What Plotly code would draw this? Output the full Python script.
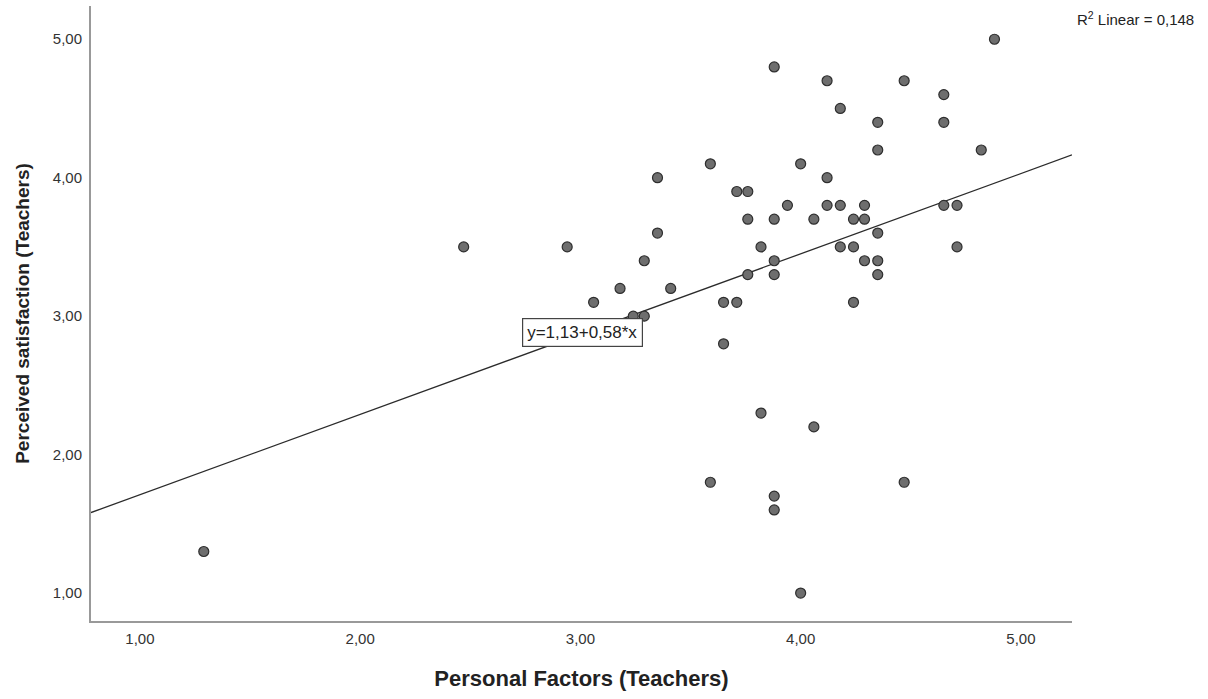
import plotly.graph_objects as go

# Personal Factors (Teachers) and Perceived satisfaction (Teachers), one pair per case
personal = [1.29, 2.47, 2.94, 3.06, 3.18, 3.24, 3.29, 3.29, 3.35, 3.35,
            3.41, 3.59, 3.59, 3.65, 3.65, 3.71, 3.71, 3.76, 3.76, 3.76,
            3.82, 3.82, 3.88, 3.88, 3.88, 3.88, 3.88, 3.88, 3.94, 4.00,
            4.00, 4.06, 4.06, 4.12, 4.12, 4.12, 4.18, 4.18, 4.18, 4.24,
            4.24, 4.24, 4.29, 4.29, 4.29, 4.35, 4.35, 4.35, 4.35, 4.35,
            4.47, 4.47, 4.65, 4.65, 4.65, 4.71, 4.71, 4.82, 4.88]
satisfaction = [1.3, 3.5, 3.5, 3.1, 3.2, 3.0, 3.4, 3.0, 4.0, 3.6,
                3.2, 4.1, 1.8, 3.1, 2.8, 3.9, 3.1, 3.9, 3.7, 3.3,
                3.5, 2.3, 4.8, 3.7, 3.4, 3.3, 1.7, 1.6, 3.8, 4.1,
                1.0, 3.7, 2.2, 4.7, 4.0, 3.8, 4.5, 3.8, 3.5, 3.7,
                3.5, 3.1, 3.8, 3.7, 3.4, 4.4, 4.2, 3.6, 3.4, 3.3,
                4.7, 1.8, 4.6, 4.4, 3.8, 3.8, 3.5, 4.2, 5.0]

# fit line reported by SPSS
intercept = 1.13
slope = 0.58
r2_text = "R<sup>2</sup> Linear = 0,148"
eq_text = "y=1,13+0,58*x"

x_range = [0.778, 5.232]
y_range = [0.798, 5.24]
tick_vals = [1, 2, 3, 4, 5]

fit_x = x_range
fit_y = [intercept + slope * v for v in fit_x]

fig = go.Figure()
fig.add_trace(go.Scatter(
    x=fit_x, y=fit_y, mode='lines',
    line=dict(color='#2b2b2b', width=1.3),
    hoverinfo='skip'
))
fig.add_trace(go.Scatter(
    x=personal, y=satisfaction, mode='markers',
    marker=dict(size=10, color='#6e6e6e',
                line=dict(color='#2e2e2e', width=1.2))
))

# equation label, sitting on the fit line near x=3
fig.add_annotation(
    x=3.01, y=2.885, text=eq_text, showarrow=False,
    font=dict(size=17, color='#222222'),
    bgcolor='white', bordercolor='#444444', borderwidth=1.2, borderpad=4
)
fig.add_annotation(
    xref='paper', yref='paper', x=1.003, y=0.979,
    xanchor='left', yanchor='middle', text=r2_text, showarrow=False,
    font=dict(size=15, color='#222222')
)

fig.update_layout(
    width=1208, height=699,
    margin=dict(l=91, r=136, t=6, b=78),
    plot_bgcolor='white', paper_bgcolor='white',
    showlegend=False,
    separators=',.',
    font=dict(family='Liberation Sans, Arial, sans-serif', color='#222222'),
)
fig.update_xaxes(
    range=x_range, tickvals=tick_vals, tickformat='.2f',
    showgrid=False, zeroline=False, automargin=False,
    showline=True, linecolor='#999999', linewidth=2,
    ticks='outside', ticklen=3, tickcolor='rgba(0,0,0,0)',
    tickfont=dict(size=15, color='#333333'),
    title=dict(text='<b>Personal Factors (Teachers)</b>',
               font=dict(size=22), standoff=25)
)
fig.update_yaxes(
    range=y_range, tickvals=tick_vals, tickformat='.2f',
    showgrid=False, zeroline=False, automargin=False,
    showline=True, linecolor='#999999', linewidth=2,
    ticks='outside', ticklen=4, tickcolor='rgba(0,0,0,0)',
    tickfont=dict(size=15, color='#333333'),
    title=dict(text='<b>Perceived satisfaction (Teachers)</b>',
               font=dict(size=19), standoff=18)
)

# drop the browser's default 8px body margin so the figure sits at 0,0
fig.write_html("out.html", config={'displayModeBar': False},
               post_script="document.body.style.margin='0';")
